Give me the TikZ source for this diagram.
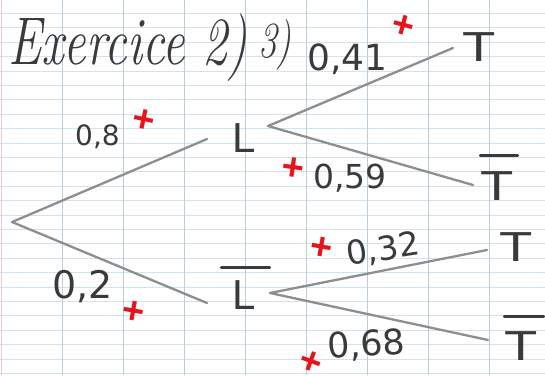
\documentclass[tikz,border=0pt]{standalone}
\usepackage{fontspec}
\usetikzlibrary{calc}
\newfontfamily\handsans{DejaVu Sans}
\newfontfamily\lettersans{Liberation Sans}
\newfontfamily\crossfont{Liberation Sans}
\definecolor{gridh}{HTML}{D3E3EC}
\definecolor{gridv}{HTML}{BACDD9}
\definecolor{marginc}{HTML}{F2C4D8}
\definecolor{pencil}{HTML}{8E8E8E}
\definecolor{ink}{HTML}{3A3A3A}
\definecolor{redmark}{HTML}{E8141C}
\begin{document}
\begin{tikzpicture}[x=1pt,y=-1pt,
  hline/.style={draw=gridh, line width=0.8pt},
  vline/.style={draw=gridv, line width=0.9pt},
  branch/.style={draw=pencil, line width=2.3pt, line cap=round},
  prob/.style={text=ink, inner sep=0pt, font=\handsans\fontsize{#1}{#1}\selectfont},
  event/.style={text=ink, inner sep=0pt, font=\lettersans\fontsize{42}{42}\selectfont},
  barline/.style={draw=ink, line width=2.4pt, line cap=round},
  crossmark/.style={text=redmark, inner sep=0pt, font=\crossfont\bfseries\fontsize{38}{38}\selectfont},
  titletext/.style={text=ink, inner sep=0pt, font=\itshape\fontsize{#1}{#1}\selectfont}]
\useasboundingbox (0,0) rectangle (545,375);
\fill[white] (0,0) rectangle (545,375);
% squared paper
\foreach \k in {0,...,25}{\draw[hline] (0,{13.3+14.4*\k}) -- (545,{13.3+14.4*\k});}
\foreach \k in {0,...,7}{\draw[vline] ({62+61*\k},0) -- ({62+61*\k},375);}
\draw[draw=marginc, line width=1pt] (1.5,0) -- (1.5,375);

% title
\node[titletext=50, anchor=base west] (title) at (8,64) {\scalebox{1}[1.35]{Exercice 2)}};
\node[titletext=44, anchor=base west] (title3) at (258,57) {\scalebox{0.85}[1.15]{3)}};

% events
\coordinate (root) at (12,222);
\node[event] (L) at (244,138) {L};
\node[event] (Lb) at (244,295) {L};
\node[event] (T1) at (479,47) {\scalebox{1.3}[1]{T}};
\node[event] (Tb1) at (497,186) {\scalebox{1.3}[1]{T}};
\node[event] (T2) at (516,247) {\scalebox{1.3}[1]{T}};
\node[event] (Tb2) at (521,346) {\scalebox{1.3}[1]{T}};
\draw[barline] ($(Lb.north west)+(-11,-13)$) -- ($(Lb.north east)+(14,-13)$);
\draw[barline] ($(Tb1.north west)+(0,-16)$) -- ($(Tb1.north east)+(4,-16)$);
\draw[barline] ($(Tb2.north west)+(0,-15)$) -- ($(Tb2.north east)+(6,-15)$);

% branch ends
\coordinate (eL) at (207,139);
\coordinate (eLb) at (207,303);
\coordinate (sL) at (268,126);
\coordinate (sLb) at (270,293);
\coordinate (eT1) at (453,48);
\coordinate (eTb1) at (473,185);
\coordinate (eT2) at (487,250);
\coordinate (eTb2) at (488,340);
\draw[branch] (root) -- (eL);
\draw[branch] (root) -- (eLb);
\draw[branch] (sL) -- (eT1);
\draw[branch] (sL) -- (eTb1);
\draw[branch] (sLb) -- (eT2);
\draw[branch] (sLb) -- (eTb2);

% probabilities
\node[prob=28, anchor=base west] (p1) at (75,145) {0,8};
\node[prob=38, anchor=base west] (p2) at (52,298) {0,2};
\node[prob=36, anchor=base west] (p3) at (307,70) {0,41};
\node[prob=33, anchor=base west] (p4) at (313,188) {0,59};
\node[prob=33, anchor=base west, rotate=9] (p5) at (348,266) {0,32};
\node[prob=35, anchor=base west, rotate=4] (p6) at (328,359) {0,68};

% red ticks
\node[crossmark, rotate=-12] (c1) at (144,121) {+};
\node[crossmark, rotate=-10] (c2) at (133,312) {+};
\node[crossmark, rotate=-15] (c3) at (403,27) {+};
\node[crossmark, rotate=-8] (c4) at (293,169) {+};
\node[crossmark, rotate=-10] (c5) at (321,248) {+};
\node[crossmark, rotate=-20] (c6) at (311,363) {+};
\end{tikzpicture}
\end{document}
